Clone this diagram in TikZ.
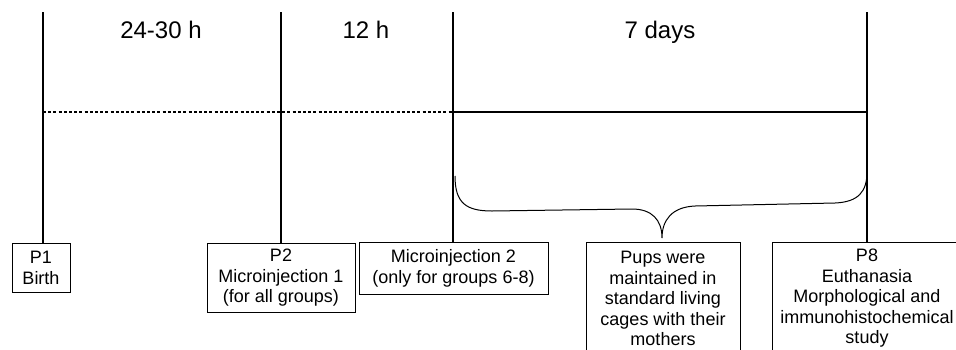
\documentclass[tikz,border=0pt]{standalone}
\usepackage{fontspec}
\setmainfont{Liberation Sans}
\tikzset{
  tick/.style={line width=1.5pt},
  stagebox/.style={draw, line width=0.9pt, align=center, anchor=north,
    font=\fontsize{18}{20.5}\selectfont, inner sep=3pt},
  span/.style={anchor=base, font=\fontsize{24}{28}\selectfont},
}
\begin{document}
\begin{tikzpicture}[x=1pt,y=-1pt]
    \useasboundingbox (0,0) rectangle (956,349);
    \clip (0,0) rectangle (956,349);

    % Stage boxes
    \node[stagebox, minimum width=58pt, minimum height=49pt] (p1) at (41,243) {P1\\Birth};
    \node[stagebox, minimum width=148pt, minimum height=69pt] (p2) at (281,243) {P2\\Microinjection 1\\(for all groups)};
    \node[stagebox, minimum width=189pt, minimum height=52pt] (mi2) at (453.5,242) {Microinjection 2\\(only for groups 6-8)};
    \node[stagebox, minimum width=154pt, minimum height=112pt] (pups) at (663,242) {Pups were\\maintained in\\standard living\\cages with their\\mothers};
    \node[stagebox, minimum width=190pt, minimum height=112pt] (p8) at (867,242) {P8\\Euthanasia\\Morphological and\\immunohistochemical\\study};

    % Time marks
    \coordinate (t1) at (43,12);
    \coordinate (t2) at (281,12);
    \coordinate (t3) at (453,12);
    \coordinate (t4) at (867,12);
    \draw[tick] (t1) -- (t1 |- p1.north);
    \draw[tick] (t2) -- (t2 |- p2.north);
    \draw[tick] (t3) -- (t3 |- mi2.north);
    \draw[tick] (t4) -- (t4 |- p8.north);

    % Time axis
    \coordinate (m1) at (43,112);
    \coordinate (m3) at (453,112);
    \coordinate (m4) at (867,112);
    \draw[line width=1.2pt, dash pattern=on 3pt off 2.2pt] (m1) -- (m3);
    \draw[line width=1.2pt] (m3) -- (m4);

    % Durations
    \node[span] (d1) at (161,38) {24-30 h};
    \node[span] (d2) at (366,38) {12 h};
    \node[span] (d3) at (660,38) {7 days};

    % Brace over the 7 days
    \coordinate (bl) at (455,176);
    \coordinate (bt) at (662,238);
    \coordinate (br) at (867,172);
    \draw[line width=1pt] (bl) .. controls (455,203) and (466,211) .. (492,211)
        -- (632,209) .. controls (652,209) and (662,220) .. (bt)
        .. controls (662,220) and (672,207) .. (695,206)
        -- (835,203) .. controls (858,202) and (867,192) .. (br);
\end{tikzpicture}
\end{document}
